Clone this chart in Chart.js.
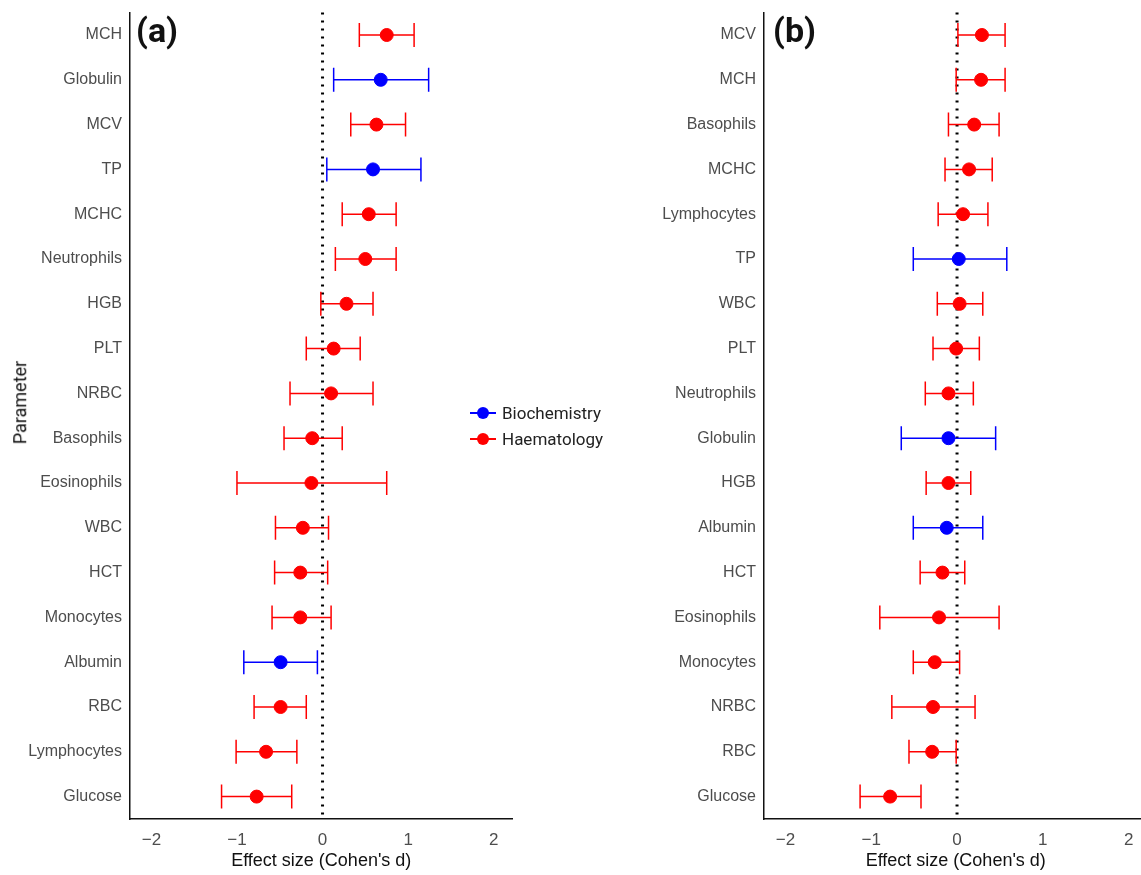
<!DOCTYPE html>
<html><head><meta charset="utf-8">
<script src="https://cdn.jsdelivr.net/npm/chart.js@4"></script>
<style>
body{margin:0;background:#fff;font-family:Roboto,"Noto Sans",sans-serif;}
#wrap{position:relative;width:1141px;height:875px;overflow:hidden;}
canvas{position:absolute;top:0;}
.lbl{position:absolute;font-weight:bold;font-size:34px;color:#111;}
#legend{position:absolute;left:470px;top:400px;font-size:17px;color:#222;}
#legend div{height:26px;display:flex;align-items:center;}
.key{display:inline-block;width:26px;height:12px;position:relative;margin-right:6px;}
.key:before{content:"";position:absolute;left:0;right:0;top:5px;height:1.5px;}
.key:after{content:"";position:absolute;left:7px;top:0;width:12px;height:12px;border-radius:50%;}
.b:before,.b:after{background:#0000ff;} .h:before,.h:after{background:#ff0000;}
#ytitle{position:absolute;left:-22px;top:392px;transform:rotate(-90deg);font-size:18px;color:#111;}
</style></head>
<body><div id="wrap">
<canvas id="ca" width="520" height="874" style="left:0;width:520px;height:874px"></canvas>
<canvas id="cb" width="515" height="874" style="left:640px;width:515px;height:874px"></canvas>
<div class="lbl" style="left:136px;top:10px">(a)</div>
<div class="lbl" style="left:773px;top:10px">(b)</div>
<div id="ytitle">Parameter</div>
<div id="legend"><div><span class="key b"></span>Biochemistry</div><div><span class="key h"></span>Haematology</div></div>
</div>
<script>
const paramsA = ['MCH','Globulin','MCV','TP','MCHC','Neutrophils','HGB','PLT','NRBC','Basophils','Eosinophils','WBC','HCT','Monocytes','Albumin','RBC','Lymphocytes','Glucose'];
const groupA = ['H','B','H','B','H','H','H','H','H','H','H','H','H','H','B','H','H','H'];
const estA = [0.75,0.68,0.63,0.59,0.54,0.50,0.28,0.13,0.10,-0.12,-0.13,-0.23,-0.26,-0.26,-0.49,-0.49,-0.66,-0.77];
const lowA = [0.43,0.13,0.33,0.05,0.23,0.15,-0.02,-0.19,-0.38,-0.45,-1.00,-0.55,-0.56,-0.59,-0.92,-0.80,-1.01,-1.18];
const highA = [1.07,1.24,0.97,1.15,0.86,0.86,0.59,0.44,0.59,0.23,0.75,0.07,0.06,0.10,-0.06,-0.19,-0.30,-0.36];

const paramsB = ['MCV','MCH','Basophils','MCHC','Lymphocytes','TP','WBC','PLT','Neutrophils','Globulin','HGB','Albumin','HCT','Eosinophils','Monocytes','NRBC','RBC','Glucose'];
const groupB = ['H','H','H','H','H','B','H','H','H','B','H','B','H','H','H','H','H','H'];
const estB = [0.29,0.28,0.20,0.14,0.07,0.02,0.03,-0.01,-0.10,-0.10,-0.10,-0.12,-0.17,-0.21,-0.26,-0.28,-0.29,-0.78];
const lowB = [0.01,-0.01,-0.10,-0.14,-0.22,-0.51,-0.23,-0.28,-0.37,-0.65,-0.36,-0.51,-0.43,-0.90,-0.51,-0.76,-0.56,-1.13];
const highB = [0.56,0.56,0.49,0.41,0.36,0.58,0.30,0.26,0.19,0.45,0.16,0.30,0.09,0.49,0.03,0.21,-0.01,-0.42];

const xTicks = [-2,-1,0,1,2];
const colour = g => g === 'B' ? '#0000ff' : '#ff0000';

const errPlugin = {
  id: 'err',
  beforeDatasetsDraw(chart) {
    const {ctx, scales: {x, y}} = chart;
    const o = chart.options.plugins.err;
    ctx.save();
    // zero line
    ctx.strokeStyle = '#000'; ctx.lineWidth = 3; ctx.setLineDash([2, 6]);
    ctx.beginPath(); ctx.moveTo(x.getPixelForValue(0), chart.chartArea.top);
    ctx.lineTo(x.getPixelForValue(0), chart.chartArea.bottom); ctx.stroke();
    ctx.setLineDash([]); ctx.lineWidth = 1.5;
    o.low.forEach((lo, i) => {
      const py = y.getPixelForValue(i), x1 = x.getPixelForValue(lo), x2 = x.getPixelForValue(o.high[i]);
      ctx.strokeStyle = colour(o.group[i]);
      ctx.beginPath();
      ctx.moveTo(x1, py); ctx.lineTo(x2, py);
      ctx.moveTo(x1, py - 12); ctx.lineTo(x1, py + 12);
      ctx.moveTo(x2, py - 12); ctx.lineTo(x2, py + 12);
      ctx.stroke();
    });
    ctx.restore();
  }
};

function makeChart(id, params, group, est, low, high, yWidth, xmax, rightPad) {
  new Chart(document.getElementById(id), {
    type: 'scatter',
    data: { datasets: [{
      data: est.map((v, i) => ({x: v, y: i})),
      backgroundColor: group.map(colour), borderColor: group.map(colour),
      pointRadius: 6.5, pointHoverRadius: 6.5
    }]},
    options: {
      responsive: false, animation: false,
      layout: { padding: { top: 12, right: rightPad, bottom: 2, left: 0 } },
      plugins: { legend: {display: false}, tooltip: {enabled: false},
        err: { low, high, group } },
      scales: {
        x: { min: -2.25, max: xmax,
          afterBuildTicks: ax => { ax.ticks = xTicks.map(v => ({value: v})); },
          grid: { display: false, drawTicks: true, tickLength: 5, tickColor: '#333' },
          border: { color: '#111', width: 1.5 },
          ticks: { color: '#4d4d4d', font: {size: 17}, padding: 6, callback: v => v < 0 ? '\u2212' + (-v) : v },
          title: { display: true, text: "Effect size (Cohen's d)", color: '#111', font: {size: 18}, padding: {top: -6, bottom: 0} } },
        y: { reverse: true, min: -0.5, max: 17.5,
          afterBuildTicks: ax => { ax.ticks = params.map((p, i) => ({value: i})); },
          afterFit: ax => { ax.width = yWidth; },
          grid: { display: false, tickLength: 5, tickColor: '#333' },
          border: { color: '#111', width: 1.5 },
          ticks: { color: '#4d4d4d', font: {size: 16}, callback: v => params[v] } }
      }
    },
    plugins: [errPlugin]
  });
}
makeChart('ca', paramsA, groupA, estA, lowA, highA, 130, 2.22, 7);
makeChart('cb', paramsB, groupB, estB, lowB, highB, 124, 2.22, 7);
</script></body></html>
